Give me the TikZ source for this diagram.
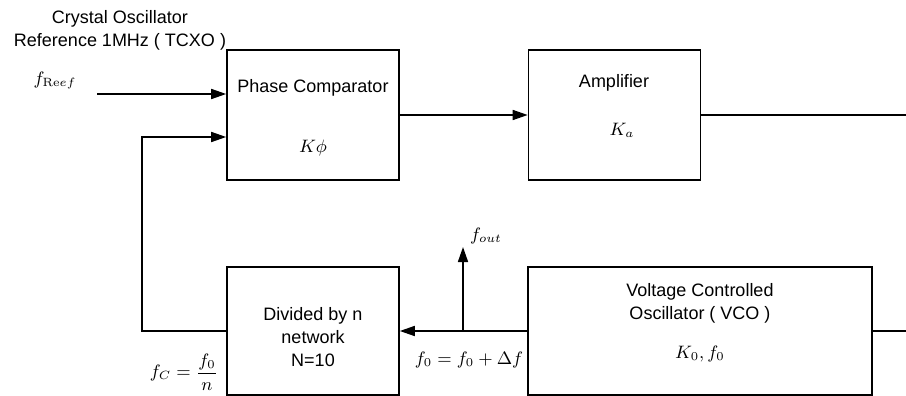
\documentclass[tikz,border=0pt]{standalone}
\usepackage{amsmath}
\usepackage[no-math]{fontspec}
\setmainfont{Liberation Sans}
\usetikzlibrary{arrows.meta}

\begin{document}
\begin{tikzpicture}[x=0.5pt,y=-0.5pt,line width=0.8pt,
  blk/.style={draw,minimum width=86pt,minimum height=65pt,inner sep=0pt},
  arr/.style={-{Triangle[length=7.5pt,width=5pt]}},
  every node/.style={align=center,font=\fontsize{9}{11.5}\selectfont}
]
\useasboundingbox (0,0) rectangle (906,396);

% blocks
\node[blk] (pc)  at (313,115)   {};
\node[blk] (amp) at (614.5,115) {};
\node[blk,minimum height=64pt] (div) at (313,331) {};
\node[blk,minimum width=172pt,minimum height=64pt] (vco) at (700,331) {};

% texts
\node (crys) at (120,30)  {Crystal Oscillator\\Reference 1MHz ( TCXO )};
\node (fref) at (55,80)   {$f_{\mathrm{Re}ef}$};
\node (pct)  at (313,88)  {Phase Comparator};
\node (kphi) at (313,148) {$K\phi$};
\node (ampt) at (614,83)  {Amplifier};
\node (ka)   at (622,130) {$K_a$};
\node (fout) at (486,236) {$f_{out}$};
\node (divt) at (313,337) {Divided by n\\network\\N=10};
\node (fc)   at (184,372) {$f_C=\dfrac{f_0}{n}$};
\node (feq)  at (469,360) {$f_0=f_0+\Delta f$};
\node (vcot) at (700,303) {Voltage Controlled\\Oscillator ( VCO )};
\node (k0)   at (700,354) {$K_0, f_0$};

% connectors
\coordinate (fin)  at (97,94);
\coordinate (aout) at (906,115);
\coordinate (vin)  at (906,331);
\coordinate (tap)  at (463,331);
\coordinate (ftop) at (463,247);
\coordinate (fbk)  at (142,137);
\draw[arr] (fin) -- (fin -| pc.west);
\draw[arr] (pc.east) -- (amp.west);
\draw (amp.east) -- (aout);
\draw (vin) -- (vco.east);
\draw[arr] (vco.west) -- (div.east);
\draw[arr] (tap) -- (ftop);
\draw[arr] (div.west) -| (fbk) -- (fbk -| pc.west);
\end{tikzpicture}
\end{document}
